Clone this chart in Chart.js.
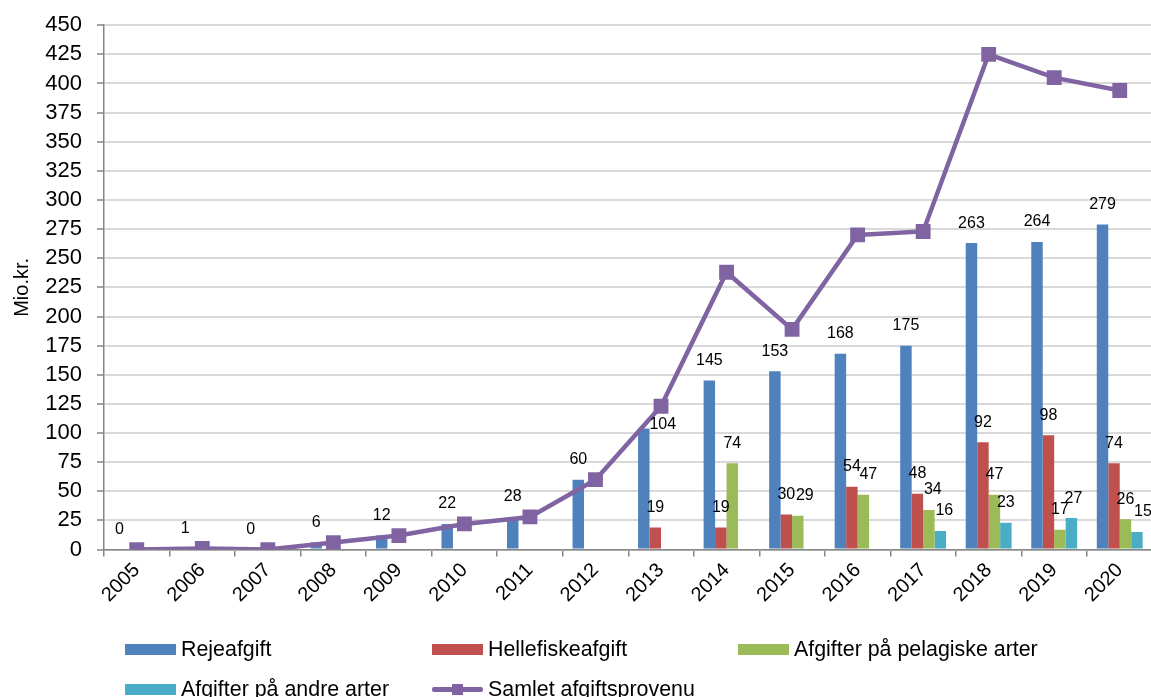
<!DOCTYPE html>
<html>
<head>
<meta charset="utf-8">
<script src="https://cdn.jsdelivr.net/npm/chart.js@4.4.1/dist/chart.umd.min.js"></script>
<style>
  html, body { margin: 0; padding: 0; background: #fff; overflow: hidden; }
  #wrap { position: relative; width: 1151px; height: 697px; overflow: hidden; }
  #c { position: absolute; left: 0; top: -3px; }
  .leg { position: absolute; font-family: "Liberation Sans", Arial, sans-serif; font-size: 21.4px; color: #000; white-space: nowrap; line-height: 24px; }
  .sw { position: absolute; left: 0; top: 7px; width: 51px; height: 11px; }
  .txt { position: absolute; left: 56px; top: 0; }
</style>
</head>
<body>
<div id="wrap">
  <canvas id="c" width="1163" height="700"></canvas>
  <div id="legend"></div>
</div>
<script>
// ---- Data ----
const years = ['2005','2006','2007','2008','2009','2010','2011','2012','2013','2014','2015','2016','2017','2018','2019','2020'];
const rejeafgift = [0, 1, 0, 6, 12, 22, 28, 60, 104, 145, 153, 168, 175, 263, 264, 279];
const hellefiskeafgift = [null, null, null, null, null, null, null, null, 19, 19, 30, 54, 48, 92, 98, 74];
const pelagiske = [null, null, null, null, null, null, null, null, null, 74, 29, 47, 34, 47, 17, 26];
const andreArter = [null, null, null, null, null, null, null, null, null, null, null, null, 16, 23, 27, 15];
const samlet = [0, 1, 0, 6, 12, 22, 28, 60, 123, 238, 189, 270, 273, 425, 405, 394];
const seriesNames = ['Rejeafgift', 'Hellefiskeafgift', 'Afgifter på pelagiske arter', 'Afgifter på andre arter', 'Samlet afgiftsprovenu'];
const yTicks = [0, 25, 50, 75, 100, 125, 150, 175, 200, 225, 250, 275, 300, 325, 350, 375, 400, 425, 450];

// ---- Styles ----
const colors = ['#4F81BD', '#C0504D', '#9BBB59', '#4BACC6', '#8064A2'];
const FONT = '"Liberation Sans", Arial, sans-serif';
// label offsets (dx, dy) for a few labels moved in the original
const labelShift = { '0:8': [19, 16], '2:10': [7, 0], '2:11': [5, 0], '2:12': [4, 0], '3:12': [4, 0], '3:14': [2, 0], '3:15': [6, 0] };

const barLabels = {
  id: 'barLabels',
  afterDatasetsDraw(chart) {
    const ctx = chart.ctx;
    ctx.save();
    ctx.font = '16px ' + FONT;
    ctx.fillStyle = '#000';
    ctx.textAlign = 'center';
    ctx.textBaseline = 'middle';
    for (let d = 0; d < 4; d++) {
      const meta = chart.getDatasetMeta(d);
      const data = chart.data.datasets[d].data;
      meta.data.forEach((el, i) => {
        const v = data[i];
        if (v === null || v === undefined) return;
        const sh = labelShift[d + ':' + i] || [0, 0];
        ctx.fillText(String(v), el.x + sh[0], el.y - 20 + sh[1]);
      });
    }
    ctx.restore();
  }
};

const barSeries = [rejeafgift, hellefiskeafgift, pelagiske, andreArter];
const datasets = barSeries.map((arr, k) => ({
  type: 'bar',
  label: seriesNames[k],
  data: arr,
  backgroundColor: colors[k],
  borderWidth: 0,
  categoryPercentage: 0.70,
  barPercentage: 1.0,
  order: 2
}));
datasets.push({
  type: 'line',
  label: seriesNames[4],
  data: samlet,
  borderColor: colors[4],
  backgroundColor: colors[4],
  borderWidth: 4.5,
  pointStyle: 'rect',
  pointRadius: 10.5,
  pointHoverRadius: 10.5,
  pointBorderWidth: 0,
  tension: 0,
  order: 0
});

new Chart(document.getElementById('c'), {
  type: 'bar',
  data: { labels: years, datasets: datasets },
  options: {
    responsive: false,
    animation: false,
    events: [],
    layout: { padding: { left: 0, right: 0, top: 7, bottom: 88 } },
    plugins: {
      legend: { display: false },
      tooltip: { enabled: false }
    },
    scales: {
      x: {
        offset: true,
        grid: { display: true, offset: true, drawOnChartArea: false, drawTicks: true, tickLength: 7, color: '#868686', lineWidth: 1.5 },
        border: { display: true, color: '#868686', width: 1.5 },
        ticks: { color: '#000', font: { family: FONT, size: 20 }, maxRotation: 45, minRotation: 45, padding: 2, autoSkip: false }
      },
      y: {
        min: 0, max: 450,
        afterBuildTicks(axis) { axis.ticks = yTicks.map(v => ({ value: v })); },
        afterFit(scale) { scale.width = 104; },
        grid: { color: '#D9D9D9', lineWidth: 2, drawTicks: true, tickLength: 7,
                tickColor: '#868686', tickWidth: 1.5 },
        border: { display: true, color: '#868686', width: 1.5 },
        ticks: { color: '#000', font: { family: FONT, size: 22 }, padding: 15, autoSkip: false },
        title: { display: true, text: 'Mio.kr.', color: '#000', font: { family: FONT, size: 20 }, padding: { top: 10, bottom: 0 } }
      }
    }
  },
  plugins: [barLabels]
});

// ---- HTML legend ----
const legendPos = [[125, 637], [432, 637], [738, 637], [125, 677], [432, 677]];
const legEl = document.getElementById('legend');
seriesNames.forEach((name, k) => {
  const d = document.createElement('div');
  d.className = 'leg';
  d.style.left = legendPos[k][0] + 'px';
  d.style.top = legendPos[k][1] + 'px';
  let sw;
  if (k < 4) {
    sw = '<div class="sw" style="background:' + colors[k] + '"></div>';
  } else {
    sw = '<div style="position:absolute;left:0;top:10px;width:51px;height:4.5px;background:' + colors[k] + ';border-radius:2px"></div>' +
         '<div style="position:absolute;left:20px;top:7px;width:11px;height:11px;background:' + colors[k] + '"></div>';
  }
  d.innerHTML = sw + '<span class="txt">' + name + '</span>';
  legEl.appendChild(d);
});
</script>
</body>
</html>
